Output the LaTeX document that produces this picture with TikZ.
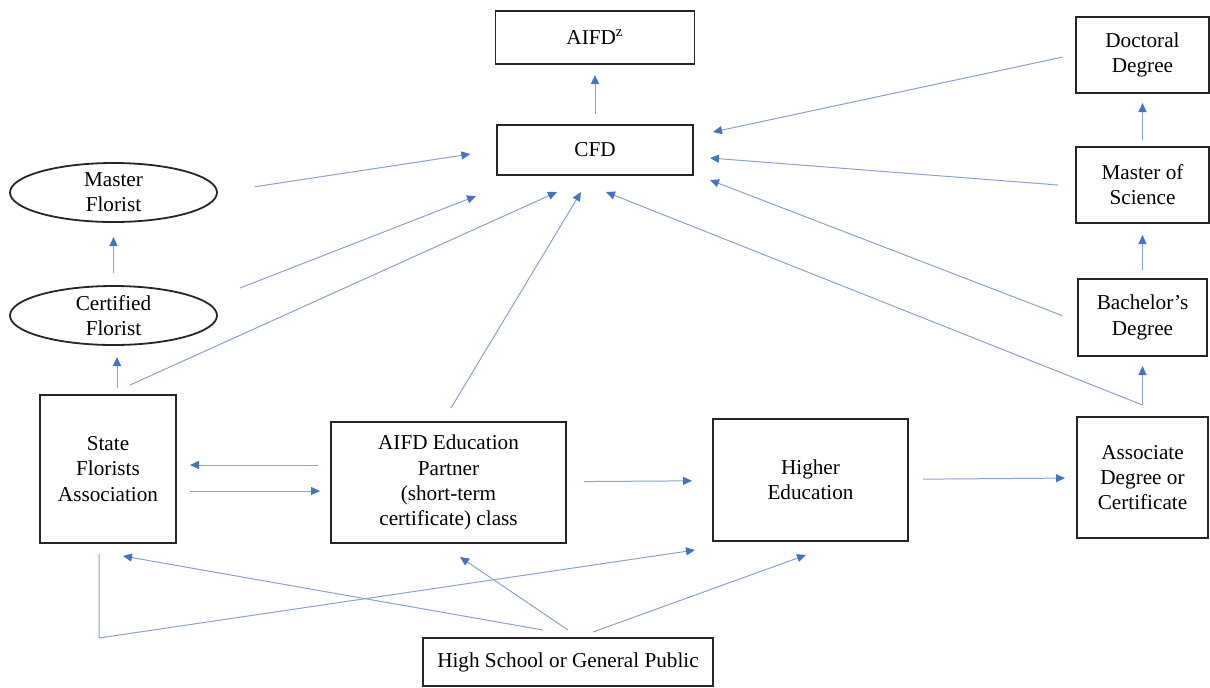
\documentclass[tikz,border=0pt]{standalone}
\usepackage{fontspec}
\setmainfont{Liberation Serif}
\usetikzlibrary{positioning,shapes.geometric,arrows.meta}
\definecolor{linkblue}{RGB}{68,114,196}
\definecolor{linkgray}{RGB}{138,162,204}

\begin{document}
\begin{tikzpicture}[->, >={Triangle[length=4.5pt,width=4pt,color=linkblue]},
        font=\fontsize{10.6}{12.6}\selectfont,
        box/.style={draw=black!85, line width=0.9pt, align=center, inner sep=0pt, outer sep=0pt},
        oval/.style={ellipse, draw=black!85, line width=0.9pt, align=center, inner xsep=0pt,
            inner ysep=-1.5pt, outer sep=0pt, minimum width=103.5pt, minimum height=29.5pt},
        link/.style={draw=linkgray, line width=0.5pt},
        every edge/.style={link}]
            \useasboundingbox (0,0) rectangle (605pt,-343.5pt);

            \node (2) [box, minimum width=98pt, minimum height=25pt] at (297.5pt,-75pt) {CFD};
            \node (1) [box, above=30.5pt of 2, minimum width=99.5pt, minimum height=26.5pt] {AIFD\textsuperscript{z}};
            \node (8) [box, minimum width=68pt, minimum height=74pt] at (54pt,-234.5pt) {State\\Florists\\Association};
            \node (6) [oval, above=25pt of 8, xshift=2.75pt] {Certified\\Florist};
            \node (4) [oval, above=32pt of 6] {Master\\Florist};
            \node (9) [box, right=77.5pt of 8, yshift=-6.75pt, minimum width=117.5pt, minimum height=60.5pt] {AIFD Education\\Partner\\(short-term\\certificate) class};
            \node (10) [box, right=73.5pt of 9, yshift=1.25pt, minimum width=97.5pt, minimum height=61pt] {Higher\\Education};
            \node (11) [box, right=84.5pt of 10, yshift=1.25pt, minimum width=65.5pt, minimum height=60.5pt] {Associate\\Degree or\\Certificate};
            \node (7) [box, above=30.5pt of 11, minimum width=64.5pt, minimum height=38.5pt] {Bachelor’s\\Degree};
            \node (5) [box, above=28pt of 7, minimum width=66.5pt, minimum height=38pt] {Master of\\Science};
            \node (3) [box, above=27pt of 5, minimum width=66.5pt, minimum height=38pt] {Doctoral\\Degree};
            \node (12) [box, minimum width=145pt, minimum height=24pt] at (284pt,-331pt) {High School or General Public};

            \path
            (2) edge[shorten <=5.5pt, shorten >=5.5pt] (1)
            (4.east) edge[shorten <=19pt, shorten >=13.5pt] (2.west)
            ([xshift=11.5pt,yshift=13.75pt]6.east) edge ([xshift=-10.5pt,yshift=-10.5pt]2.south west)
            ([xshift=11pt,yshift=5pt]8.north) edge ([xshift=-19pt,yshift=-8.5pt]2.south)
            ([xshift=4.5pt,yshift=3.5pt]8.north) edge ([xshift=1.75pt,yshift=-6pt]6.south)
            (6) edge[shorten <=6.5pt, shorten >=7.5pt] (4)
            ([xshift=1.25pt,yshift=7pt]9.north) edge ([xshift=-7pt,yshift=-8.5pt]2.south)
            ([xshift=-6.5pt,yshift=-1pt]3.west) edge ([xshift=10pt,yshift=-3.5pt]2.north east)
            ([xshift=-9pt]5.west) edge ([xshift=8.5pt,yshift=-4pt]2.east)
            ([xshift=-8pt,yshift=1pt]7.west) edge ([xshift=8.5pt,yshift=-2.5pt]2.south east)
            ([yshift=6pt]11.north) edge ([xshift=5.5pt,yshift=-8.5pt]2.south)
            (11) edge[shorten <=6pt, shorten >=5pt] (7)
            (7) edge[shorten <=4.5pt, shorten >=6pt] (5)
            (5) edge[shorten <=3.5pt, shorten >=5pt] (3)
            ([xshift=-6.5pt,yshift=8.75pt]9.west) edge ([xshift=7pt,yshift=2pt]8.east)
            ([xshift=7pt,yshift=-11pt]8.east) edge ([xshift=-5.5pt,yshift=-4.25pt]9.west)
            (9) edge[shorten <=9pt, shorten >=10.5pt] (10)
            (10) edge[shorten <=7.5pt, shorten >=6pt] (11)
            ([xshift=-12.5pt,yshift=4pt]12.north) edge ([xshift=7.5pt,yshift=-6.5pt]8.south)
            ([yshift=4pt]12.north) edge ([xshift=5.75pt,yshift=-7pt]9.south)
            ([xshift=12.5pt,yshift=3pt]12.north) edge ([xshift=-2.25pt,yshift=-7pt]10.south);

            % state association down and across to higher education
            \draw[link] ([xshift=-4.5pt,yshift=-5.5pt]8.south) -- ++(0,-42pt) -- ([xshift=-9pt,yshift=-4.5pt]10.south west);

        \end{tikzpicture}
\end{document}
